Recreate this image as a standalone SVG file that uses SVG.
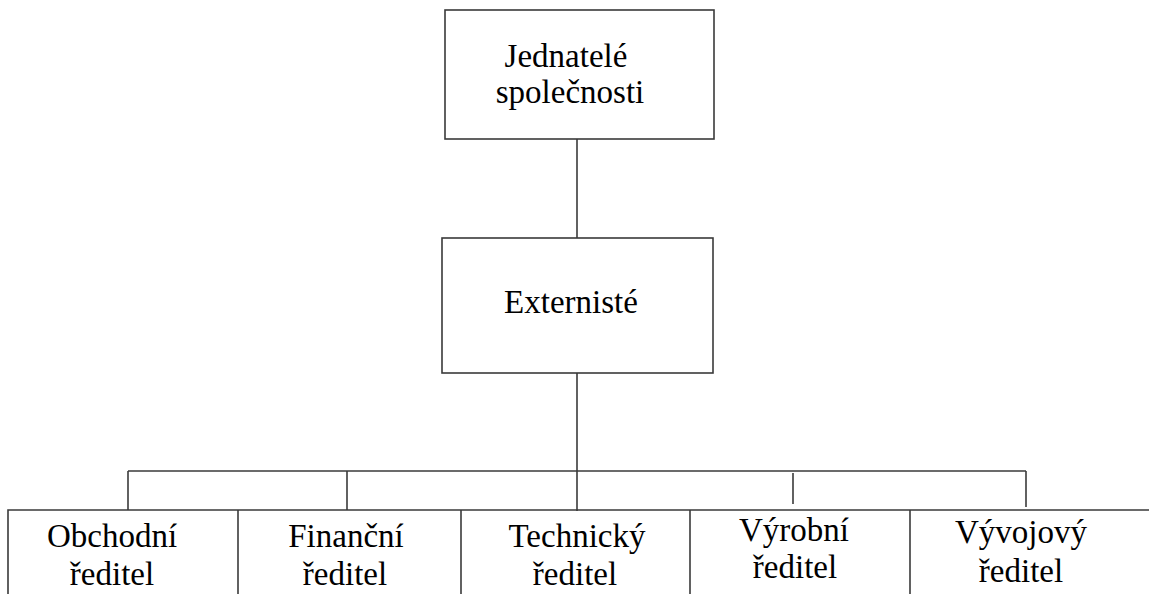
<svg xmlns="http://www.w3.org/2000/svg" width="1149" height="594" viewBox="0 0 1149 594">
<style>
.box{fill:#fff;stroke:#3a3a3a;stroke-width:1.6}
.ln{fill:none;stroke:#3a3a3a;stroke-width:1.6}
text{font-family:"Liberation Serif","Times New Roman",serif;font-size:33px;fill:#000;text-anchor:middle}
</style>
<rect width="1149" height="594" fill="#fff"/>
<g id="connectors">
<line class="ln" x1="577" y1="139" x2="577" y2="238"/>
<line class="ln" x1="577" y1="373" x2="577" y2="511"/>
<line class="ln" x1="128" y1="471" x2="1026" y2="471"/>
<line class="ln" x1="128" y1="471" x2="128" y2="510"/>
<line class="ln" x1="347" y1="471" x2="347" y2="510"/>
<line class="ln" x1="793" y1="473" x2="793" y2="504"/>
<line class="ln" x1="1026" y1="471" x2="1026" y2="507"/>
</g>
<g id="jednatele">
<rect class="box" x="445" y="10" width="269" height="129"/>
<text x="566" y="67">Jednatelé</text>
<text x="570" y="103">společnosti</text>
</g>
<g id="externiste">
<rect class="box" x="442" y="238" width="271" height="135"/>
<text x="571" y="313">Externisté</text>
</g>
<g id="bottom-frame">
<polyline class="ln" points="8,594 8,510 1149,510"/>
<line class="ln" x1="238" y1="510" x2="238" y2="594"/>
<line class="ln" x1="461" y1="510" x2="461" y2="594"/>
<line class="ln" x1="690" y1="510" x2="690" y2="594"/>
<line class="ln" x1="910" y1="510" x2="910" y2="594"/>
</g>
<g id="obchodni">
<text x="112" y="547">Obchodní</text>
<text x="112" y="585">ředitel</text>
</g>
<g id="financni">
<text x="346" y="547">Finanční</text>
<text x="345" y="585">ředitel</text>
</g>
<g id="technicky">
<text x="577" y="547">Technický</text>
<text x="575" y="585">ředitel</text>
</g>
<g id="vyrobni">
<text x="794" y="541">Výrobní</text>
<text x="795" y="578">ředitel</text>
</g>
<g id="vyvojovy">
<text x="1021" y="543">Vývojový</text>
<text x="1021" y="582">ředitel</text>
</g>
</svg>
